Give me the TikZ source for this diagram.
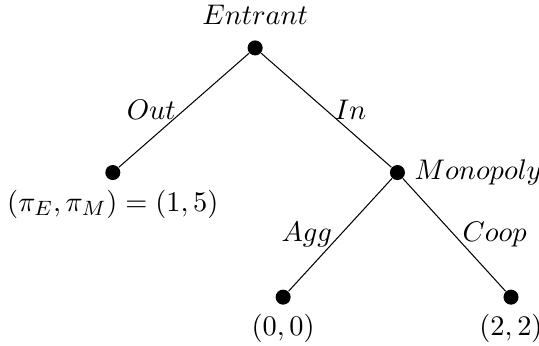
\documentclass[tikz,border=0pt]{standalone}
\usepackage{amsmath, amssymb}
\usepackage{tikz}
\usetikzlibrary{positioning}
\tikzset{
  gamenode/.style={circle, fill=black, inner sep=0pt, minimum size=5.8pt},
  move/.style={draw, black, thin},
  movelabel/.style={inner sep=3pt}
}

\begin{document}
\begin{tikzpicture}[
  on grid,
  every label/.style={font=\fontsize{11}{13}\selectfont},
  every node/.append style={font=\fontsize{11}{13}\selectfont},
]
\useasboundingbox (0,0) rectangle (7.31,4.68);

% Decision nodes
\node[gamenode, label={[label distance=2.5pt]above:$Entrant$}] (entrant) at (3.46,4.03) {};
\node[gamenode, label=below:{$(\pi_E,\pi_M)=(1,5)$}] (out) [below left=1.69cm and 1.93cm of entrant] {};
\node[gamenode, label=right:$Monopoly$] (monopoly) [below right=1.69cm and 1.93cm of entrant] {};
\node[gamenode, label=below:{$(0,0)$}] (agg) [below left=1.69cm and 1.55cm of monopoly] {};
\node[gamenode, label=below:{$(2,2)$}] (coop) [below right=1.69cm and 1.54cm of monopoly] {};

% Moves
\draw[move] (entrant) -- node[movelabel, left] {$Out$} (out);
\draw[move] (entrant) -- node[movelabel, right] {$In$} (monopoly);
\draw[move] (monopoly) -- node[movelabel, left] {$Agg$} (agg);
\draw[move] (monopoly) -- node[movelabel, right] {$Coop$} (coop);

\end{tikzpicture}
\end{document}
